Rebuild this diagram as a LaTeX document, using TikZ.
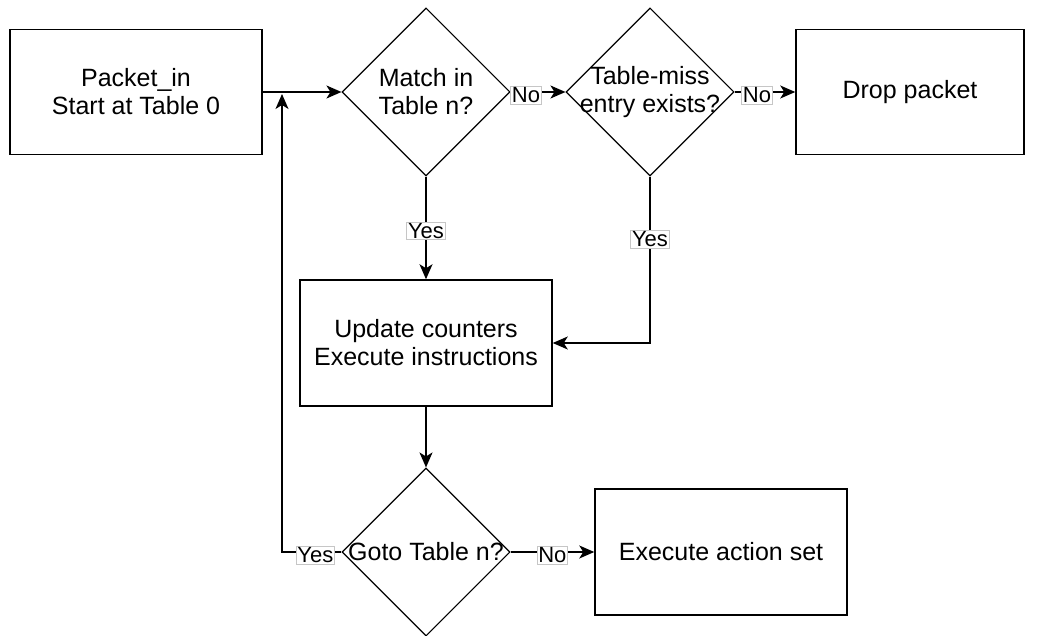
\documentclass[tikz,border=0pt]{standalone}
\usepackage{fontspec}
\setmainfont{Liberation Sans}
\usetikzlibrary{shapes.geometric,arrows.meta}

\tikzset{
  procbox/.style={draw, line width=1.5pt, minimum width=252pt, minimum height=125pt,
    inner sep=0pt, align=center, font=\fontsize{25}{28}\selectfont},
  decision/.style={draw, diamond, line width=1.1pt, minimum width=168pt,
    minimum height=168pt, inner sep=0pt},
  dtext/.style={align=center, inner sep=0pt, font=\fontsize{25}{28}\selectfont},
  flow/.style={line width=1.5pt, -{Stealth[length=15pt,width=13pt,inset=4pt]}},
  edgelab/.style={draw=gray!45, line width=0.8pt, fill=white, text=black,
    inner sep=1.3pt, yshift=-3pt, font=\fontsize{22}{24}\selectfont}
}

\begin{document}
\begin{tikzpicture}[x=1pt, y=-1pt]
  \useasboundingbox (0,0) rectangle (1039,636);

  % process boxes
  \node[procbox] (pin) at (136,92) {Packet\_in\\Start at Table 0};
  \node[procbox, minimum width=228pt] (drop) at (910,92) {Drop packet};
  \node[procbox, minimum height=126pt] (upd) at (426,343) {Update counters\\Execute instructions};
  \node[procbox, minimum height=126pt] (exec) at (721,552) {Execute action set};

  % decisions
  \node[decision] (match) at (426,92) {};
  \node[dtext] (matchtxt) at (match.center) {Match in\\Table n?};
  \node[decision] (miss) at (650,92) {};
  \node[dtext] (misstxt) at (miss.center) {Table-miss\\entry exists?};
  \node[decision] (goto) at (426,552) {};
  \node[dtext] (gototxt) at (goto.center) {Goto Table n?};

  % flow
  \draw[flow] (pin.east) -- (match.west);
  \draw[flow] (match.east) -- node[edgelab, pos=0.28] {No} (miss.west);
  \draw[flow] (miss.east) -- node[edgelab, pos=0.37] {No} (drop.west);
  \draw[flow] (match.south) -- node[edgelab] {Yes} (upd.north);
  \draw[flow] (miss.south) |- node[edgelab, pos=0.18] {Yes} (upd.east);
  \draw[flow] (upd.south) -- (goto.north);
  \draw[flow] (goto.east) -- node[edgelab] {No} (exec.west);

  % loop back to the next table
  \coordinate (back) at (282,94);
  \draw[flow] (goto.west) -| node[edgelab, pos=0.22] {Yes} (back);
\end{tikzpicture}
\end{document}
